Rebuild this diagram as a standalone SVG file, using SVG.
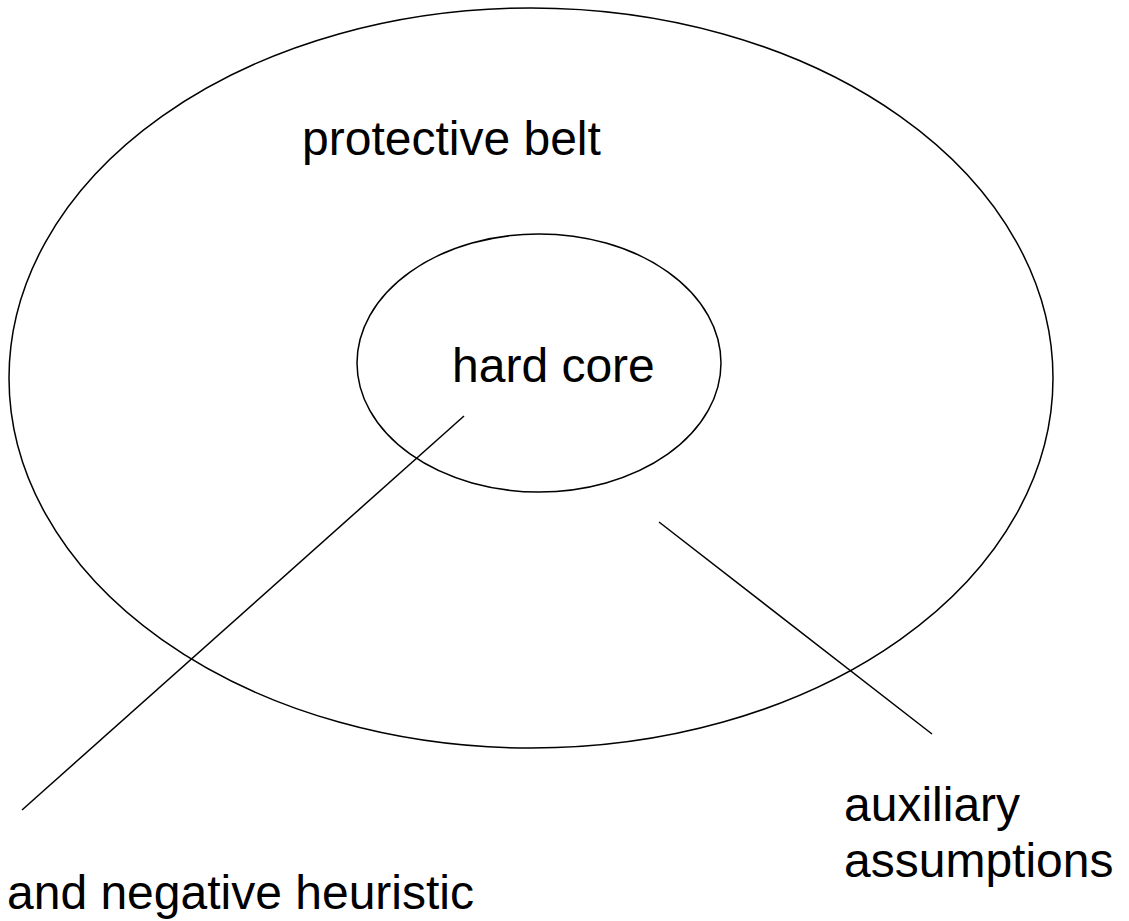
<svg xmlns="http://www.w3.org/2000/svg" width="1129" height="921" viewBox="0 0 1129 921">
<style>
.shape{fill:none;stroke:#000;stroke-width:1.5}
.line{stroke:#000;stroke-width:1.5;fill:none}
.lbl{font-family:"Liberation Sans",Arial,sans-serif;font-size:48px;fill:#000}
</style>
<rect width="1129" height="921" fill="#fff"/>
<g id="protective-belt">
<ellipse class="shape" cx="531" cy="378" rx="522" ry="370"/>
<text class="lbl" x="302" y="155">protective belt</text>
</g>
<g id="hard-core">
<ellipse class="shape" cx="539" cy="363" rx="182" ry="129"/>
<text class="lbl" x="452" y="382">hard core</text>
</g>
<g id="connectors">
<line class="line" x1="464" y1="416" x2="22" y2="810"/>
<line class="line" x1="659" y1="522" x2="932" y2="734"/>
</g>
<g id="negative-heuristic">
<text class="lbl" x="7" y="909">and negative heuristic</text>
</g>
<g id="auxiliary-assumptions">
<text class="lbl" x="844" y="821">auxiliary</text>
<text class="lbl" x="844" y="877">assumptions</text>
</g>
</svg>
